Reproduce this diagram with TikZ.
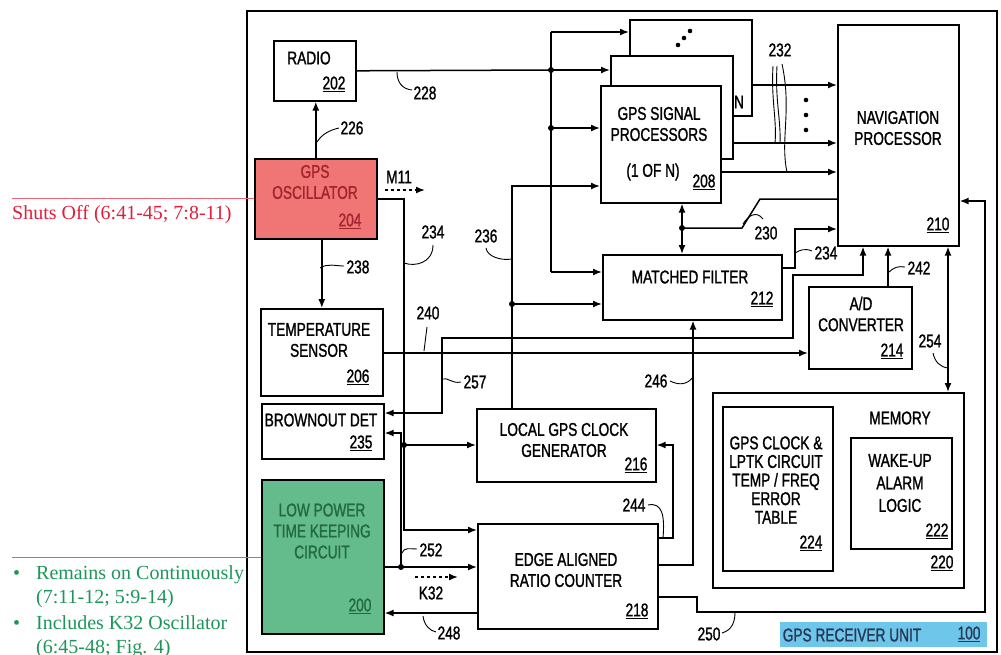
\documentclass[tikz,border=0pt]{standalone}
\usepackage{fontspec}
\setmainfont{Liberation Serif}
\newfontfamily\pat[FakeStretch=0.74,BoldFont={Liberation Sans},BoldFeatures={FakeBold=1.2}]{Liberation Sans}
\usetikzlibrary{arrows.meta,calc}
\definecolor{oscred}{RGB}{240,118,118}
\definecolor{oscdark}{RGB}{165,35,45}
\definecolor{lpgreen}{RGB}{100,188,140}
\definecolor{lpdark}{RGB}{35,105,65}
\definecolor{unitcyan}{RGB}{110,198,234}
\definecolor{unitdark}{RGB}{40,55,85}
\definecolor{annred}{RGB}{225,30,60}
\definecolor{annredline}{RGB}{235,100,120}
\definecolor{anngreen}{RGB}{30,150,90}
\definecolor{anngreenline}{RGB}{70,170,125}
\begin{document}
\begin{tikzpicture}[x=1pt,y=-1pt,
  box/.style={draw, line width=1.6pt, inner sep=0, anchor=north west},
  wire/.style={line width=1.5pt},
  arr/.style={wire,-{Latex[length=9pt,width=7pt]}},
  darr/.style={wire,{Latex[length=9pt,width=7pt]}-{Latex[length=9pt,width=7pt]}},
  dasharr/.style={wire,dash pattern=on 3pt off 3pt,-{Latex[length=9pt,width=7pt]}},
  lead/.style={line width=0.9pt},
  txt/.style={font=\pat\bfseries\fontsize{18.5}{21}\selectfont, inner sep=0, align=center},
  jdot/.style={circle, fill, inner sep=0, minimum size=6pt},
  ann/.style={font=\fontsize{20}{24}\selectfont, inner sep=0, anchor=base west}
]
\useasboundingbox (0,0) rectangle (1001,654);
\fill[white] (0,0) rectangle (1001,654);

% outer frame
\node[box, minimum width=750, minimum height=641] (outer) at (246,10) {};

% blocks
\node[box, minimum width=82, minimum height=60] (radio) at (273,40) {};
\node[box, fill=oscred, minimum width=122, minimum height=80] (osc) at (254,158) {};
\node[box, minimum width=122, minimum height=87] (temp) at (260,308) {};
\node[box, minimum width=122, minimum height=55] (brown) at (261,403) {};
\node[box, fill=lpgreen, minimum width=122, minimum height=154] (lp) at (261,479) {};
\node[box, fill=white, minimum width=122, minimum height=96] (card3) at (629,19) {};
\node[box, fill=white, minimum width=122, minimum height=103] (card2) at (610,55) {};
\node[box, fill=white, minimum width=120, minimum height=117] (card1) at (600,85) {};
\node[box, minimum width=179, minimum height=65] (mf) at (602,254) {};
\node[box, minimum width=121, minimum height=221] (nav) at (837,24) {};
\node[box, minimum width=103, minimum height=82] (ad) at (808,286) {};
\node[box, minimum width=179, minimum height=73] (local) at (476,408) {};
\node[box, minimum width=180, minimum height=105] (counter) at (477,523) {};
\node[box, minimum width=251, minimum height=195] (mem) at (712,392) {};
\node[box, minimum width=110, minimum height=164] (tbl) at (722,406) {};
\node[box, minimum width=101, minimum height=111] (wake) at (850,437) {};
\node[fill=unitcyan, inner sep=0, anchor=north west, minimum width=207, minimum height=25] (unit) at (780,622) {};

% junction coordinates
\coordinate (jtop) at (551,32);
\coordinate (j70) at (551,70);
\coordinate (j128) at (551,128);
\coordinate (jmf) at (551,272);
\coordinate (j236) at (512,304);
\coordinate (j236b) at (512,186);
\coordinate (j234a) at (404,199);
\coordinate (j234) at (404,445);
\coordinate (j234b) at (404,530);
\coordinate (j252) at (401,567);
\coordinate (j252b) at (401,433);
\coordinate (j230) at (682,228);
\coordinate (m11end) at (425,190);
\coordinate (k32s) at (415,577);
\coordinate (k32e) at (458,577);

% connectors
\draw[wire] (radio.east) -- (j70);
\draw[arr] (jtop) -- (card3.west |- jtop);
\draw[wire] (jtop) -- (jmf);
\draw[arr] (jmf) -- (mf.west |- jmf);
\draw[arr] (j70) -- (card2.west |- j70);
\draw[arr] (j128) -- (card1.west |- j128);
\node[jdot] at (j70) {};
\node[jdot] at (j128) {};

\draw[arr] (local.north -| j236) -- (j236b) -- (card1.west |- j236b);
\draw[arr] (j236) -- (mf.west |- j236);
\node[jdot] at (j236) {};

\draw[arr] (osc.north) -- (osc.north |- radio.south);
\draw[arr] (temp.north |- osc.south) -- (temp.north);
\draw[dasharr] (osc.east |- m11end) ++(7,0) -- (m11end);

\draw[arr] (osc.east |- j234a) -- (j234a) -- (j234b) -- (counter.west |- j234b);
\draw[arr] (j234) -- (local.west |- j234);
\node[jdot] at (j234) {};

\draw[arr] (lp.east |- j252) -- (counter.west |- j252);
\draw[arr] (j252) -- (j252b) -- (brown.east |- j252b);
\node[jdot] at (j252) {};
\draw[dasharr] (k32s) -- (k32e);
\draw[arr] (counter.west |- 0,613) -- (lp.east |- 0,613);

\draw[arr] (temp.east |- 0,353) -- (ad.west |- 0,353);
\draw[darr] (brown.east |- 0,413) -- (442,413) -- (442,338) -- (793,338) -- (793,275) -- (863,275) -- (nav.south -| 863,0);

\draw[wire] (nav.west |- 0,199) -- (760,199) -- (742,228) -- (j230);
\draw[darr] (card1.south -| j230) -- (mf.north -| j230);
\node[jdot] at (j230) {};

\draw[arr] (mf.east |- 0,268) -- (795,268) -- (795,229) -- (nav.west |- 0,229);

\draw[arr] (card3.east |- 0,85) -- (nav.west |- 0,85);
\draw[arr] (card2.east |- 0,143) -- (nav.west |- 0,143);
\draw[arr] (card1.east |- 0,172) -- (nav.west |- 0,172);

\draw[arr] (ad.north -| 888,0) -- (nav.south -| 888,0);
\draw[darr] (nav.south -| 948,0) -- (mem.north -| 948,0);
\draw[arr] (counter.east |- 0,565) -- (693,565) -- (mf.south -| 693,0);
\draw[arr] (counter.east |- 0,538) -- (673,538) -- (673,445) -- (local.east |- 0,445);
\draw[arr] (counter.east |- 0,597) -- (697,597) -- (697,612) -- (985,612) -- (985,201) -- (nav.east |- 0,201);

% dots on cards
\foreach \p in {(678,45),(684,38),(690,31),(806,100),(806,115),(806,130)} \fill \p circle (2.3pt);

% block texts
\node[txt] (tradio) at (309,58) {RADIO};
\node[txt] (nradio) at (334,84) {\underline{202}};
\node[txt, text=oscdark] (tosc) at (315,182) {GPS\\OSCILLATOR};
\node[txt, text=oscdark] (nosc) at (350,221) {\underline{204}};
\node[txt] (ttemp) at (319,340) {TEMPERATURE\\SENSOR};
\node[txt] (ntemp) at (358,377) {\underline{206}};
\node[txt] (tbrown) at (321,420) {BROWNOUT DET};
\node[txt] (nbrown) at (361,443) {\underline{235}};
\node[txt, text=lpdark] (tlp) at (322,531) {LOW POWER\\TIME KEEPING\\CIRCUIT};
\node[txt, text=lpdark] (nlp) at (360,606) {\underline{200}};
\node[txt] (tcard) at (659,124) {GPS SIGNAL\\PROCESSORS};
\node[txt] (tcard2) at (653,172) {(1 OF N)};
\node[txt] (ncard) at (704,182) {\underline{208}};
\node[txt] (tn) at (739,102) {N};
\node[txt] (tmf) at (690,277) {MATCHED FILTER};
\node[txt] (nmf) at (762,299) {\underline{212}};
\node[txt] (tnav) at (898,128) {NAVIGATION\\PROCESSOR};
\node[txt] (nnav) at (938,225) {\underline{210}};
\node[txt] (tad) at (861,314) {A/D\\CONVERTER};
\node[txt] (nad) at (892,351) {\underline{214}};
\node[txt] (tlocal) at (564,440) {LOCAL GPS CLOCK\\GENERATOR};
\node[txt] (nlocal) at (636,465) {\underline{216}};
\node[txt] (tcounter) at (566,570) {EDGE ALIGNED\\RATIO COUNTER};
\node[txt] (ncounter) at (637,611) {\underline{218}};
\node[txt] (tmem) at (900,418) {MEMORY};
\node[txt] (nmem) at (942,563) {\underline{220}};
\node[txt, font=\pat\bfseries\fontsize{18.5}{18.6}\selectfont] (ttbl) at (776,480) {GPS CLOCK \&\\LPTK CIRCUIT\\TEMP / FREQ\\ERROR\\TABLE};
\node[txt] (ntbl) at (811,543) {\underline{224}};
\node[txt, font=\pat\bfseries\fontsize{18.5}{22.5}\selectfont] (twake) at (900,483) {WAKE-UP\\ALARM\\LOGIC};
\node[txt] (nwake) at (937,531) {\underline{222}};
\node[txt, text=unitdark] (tunit) at (852,635) {GPS RECEIVER UNIT};
\node[txt, text=unitdark] (nunit) at (969,634) {\underline{100}};

% reference labels
\node[txt] (l228) at (425,93) {228};
\node[txt] (l226) at (352,128) {226};
\node[txt] (l238) at (358,267) {238};
\node[txt] (l234a) at (433,232) {234};
\node[txt] (l236) at (486,236) {236};
\node[txt] (l240) at (428,313) {240};
\node[txt] (l257) at (475,382) {257};
\node[txt] (l252) at (431,550) {252};
\node[txt] (l248) at (449,633) {248};
\node[txt] (lk32) at (431,593) {K32};
\node[txt] (lm11) at (399,177) {M11};
\node[txt] (l244) at (634,505) {244};
\node[txt] (l246) at (656,381) {246};
\node[txt] (l250) at (709,634) {250};
\node[txt] (l230) at (766,233) {230};
\node[txt] (l234b) at (826,253) {234};
\node[txt] (l242) at (919,268) {242};
\node[txt] (l254) at (930,341) {254};
\node[txt] (l232) at (780,50) {232};

% leaders
\draw[lead] (397,72) .. controls (397,82) and (402,89) .. (412,90);
\draw[lead] (317,142) .. controls (322,134) and (330,130) .. (339,128);
\draw[lead] (320,268) .. controls (328,263) and (335,266) .. (344,266);
\draw[lead] (404,263) .. controls (415,267) and (433,263) .. (433,245);
\draw[lead] (512,259) .. controls (500,261) and (487,256) .. (486,248);
\draw[lead] (427,327) -- (424,351);
\draw[lead] (442,379) .. controls (448,377) and (452,384) .. (461,382);
\draw[lead] (402,553) .. controls (404,547) and (410,549) .. (417,549);
\draw[lead] (423,616) .. controls (424,625) and (430,631) .. (436,632);
\draw[lead] (648,505) .. controls (662,502) and (665,515) .. (663,538);
\draw[lead] (670,381) .. controls (680,386) and (688,384) .. (693,377);
\draw[lead] (722,633) .. controls (732,630) and (735,622) .. (735,612);
\draw[lead] (743,224) .. controls (748,216) and (756,210) .. (763,219);
\draw[lead] (795,253) .. controls (800,250) and (805,248) .. (812,251);
\draw[lead] (888,273) .. controls (894,267) and (898,266) .. (905,267);
\draw[lead] (933,353) .. controls (935,362) and (940,367) .. (948,368);
\draw[lead] (773,66) .. controls (771,100) and (777,120) .. (775,143);
\draw[lead] (777,66) .. controls (775,100) and (781,120) .. (780,143);
\draw[lead] (782,64) .. controls (792,110) and (780,140) .. (787,172);

% annotations
\draw[annredline, line width=1pt] (12,198) -- (osc.west |- 0,198);
\node[ann, text=annred] (shut) at (12,219) {Shuts Off (6:41-45; 7:8-11)};
\draw[anngreenline, line width=1pt] (12,557) -- (lp.west |- 0,557);
\node[ann, text=anngreen] (b1) at (13,579) {\textbullet};
\node[ann, text=anngreen] (r1) at (36,579) {Remains on Continuously};
\node[ann, text=anngreen] (r2) at (36,603) {(7:11-12; 5:9-14)};
\node[ann, text=anngreen] (b2) at (13,629) {\textbullet};
\node[ann, text=anngreen] (r3) at (36,629) {Includes K32 Oscillator};
\node[ann, text=anngreen] (r4) at (36,653) {(6:45-48; Fig. 4)};
\end{tikzpicture}
\end{document}
